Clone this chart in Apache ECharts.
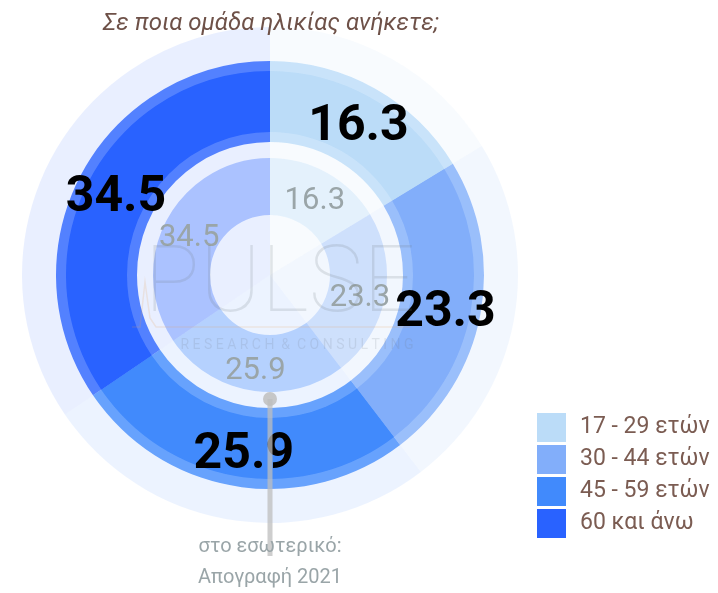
<!DOCTYPE html>
<html>
<head>
<meta charset="utf-8">
<script src="https://cdn.jsdelivr.net/npm/echarts@6/dist/echarts.min.js"></script>
<style>
  html, body { margin: 0; padding: 0; background: #fff; }
  #chart { width: 718px; height: 593px; }
</style>
</head>
<body>
<div id="chart"></div>
<script>
  // age groups and shares (outer ring = sample, inner = census 2021)
  var ageGroups = ['17 - 29 ετών', '30 - 44 ετών', '45 - 59 ετών', '60 και άνω'];
  var sampleShares = [16.3, 23.3, 25.9, 34.5];
  var censusShares = [16.3, 23.3, 25.9, 34.5];
  var colors = ['#bbdcf8', '#82aefa', '#418afc', '#2962ff'];

  var cx = 270, cy = 275;

  function fade(hex, a) {
    var r = parseInt(hex.slice(1, 3), 16), g = parseInt(hex.slice(3, 5), 16), b = parseInt(hex.slice(5, 7), 16);
    return 'rgba(' + r + ',' + g + ',' + b + ',' + a + ')';
  }

  function pieData(values, alpha) {
    return values.map(function (v, i) {
      return { name: ageGroups[i], value: v, itemStyle: { color: alpha == 1 ? colors[i] : fade(colors[i], alpha) } };
    });
  }

  var base = {
    type: 'pie',
    center: [cx, cy],
    startAngle: 90,
    clockwise: true,
    avoidLabelOverlap: false,
    silent: true,
    emphasis: { disabled: true },
    itemStyle: { borderWidth: 0 },
    labelLine: { show: false },
    labelLayout: { hideOverlap: false }
  };

  var myChart = echarts.init(document.getElementById('chart'));
  myChart.setOption({
    animation: false,
    title: {
      text: 'Σε ποια ομάδα ηλικίας ανήκετε;',
      left: 98,
      top: 7,
      textStyle: { fontFamily: 'Roboto', fontStyle: 'italic', fontWeight: 'normal', fontSize: 24, color: '#6e5148' }
    },
    legend: {
      orient: 'vertical',
      left: 532,
      top: 408,
      itemWidth: 29,
      itemHeight: 29,
      itemGap: 3,
      icon: 'rect',
      selectedMode: false,
      data: ageGroups,
      itemStyle: { borderWidth: 0 },
      textStyle: { fontFamily: 'Roboto', fontSize: 23, color: '#7b5c52', padding: [0, 0, 0, 9] }
    },
    series: [
      Object.assign({}, base, {
        name: 'sample',
        z: 4,
        radius: [143, 204],
        data: pieData(sampleShares, 1),
        label: {
          show: true, position: 'inside', offset: [2, 6],
          formatter: function (p) { return p.value.toFixed(1); },
          fontFamily: 'Roboto', fontWeight: 'bold', fontSize: 50, color: '#000'
        }
      }),
      Object.assign({}, base, {
        name: 'bg',
        z: 1,
        radius: [0, 248],
        data: pieData(sampleShares, 0.1),
        label: { show: false }
      }),
      Object.assign({}, base, {
        name: 'band',
        z: 2,
        radius: [133, 214],
        data: pieData(sampleShares, 0.78),
        label: { show: false }
      }),
      Object.assign({}, base, {
        name: 'census',
        z: 3,
        radius: [60, 117],
        data: pieData(censusShares, 0.32),
        label: {
          show: true, position: 'inside', offset: [0, 6],
          formatter: function (p) { return p.value.toFixed(1); },
          fontFamily: 'Roboto', fontSize: 31, color: '#9aa5a8'
        }
      })
    ],
    graphic: [
      {
        type: 'text', z: 10, silent: true,
        style: { text: 'PULSE', x: 280, y: 288, align: 'center', verticalAlign: 'middle',
          font: '100 92px Roboto', fill: 'rgba(110,120,130,0.18)' }
      },
      {
        type: 'text', z: 10, silent: true,
        style: { text: 'R E S E A R C H  &  C O N S U L T I N G', x: 297, y: 345, align: 'center', verticalAlign: 'middle',
          font: '14px Roboto', fill: 'rgba(110,120,130,0.16)' }
      },
      {
        type: 'polyline', z: 10, silent: true,
        shape: { points: [[132, 327], [140, 327], [145, 282], [150, 318], [156, 327], [410, 327]] },
        style: { stroke: 'rgba(230,160,90,0.18)', lineWidth: 1.5, fill: null }
      },
      {
        type: 'line', z: 20, silent: true,
        shape: { x1: cx, y1: 399, x2: cx, y2: 556 },
        style: { stroke: 'rgba(190,190,190,0.75)', lineWidth: 5 }
      },
      {
        type: 'circle', z: 20, silent: true,
        shape: { cx: cx, cy: 399, r: 7 },
        style: { fill: 'rgba(190,190,190,0.85)' }
      },
      {
        type: 'text', z: 20, silent: true,
        style: { text: 'στο εσωτερικό:', x: cx, y: 547, align: 'center', verticalAlign: 'middle',
          font: '20px Roboto', fill: '#9aa5a8' }
      },
      {
        type: 'text', z: 20, silent: true,
        style: { text: 'Απογραφή 2021', x: cx, y: 578, align: 'center', verticalAlign: 'middle',
          font: '20px Roboto', fill: '#9aa5a8' }
      }
    ]
  });
</script>
</body>
</html>
